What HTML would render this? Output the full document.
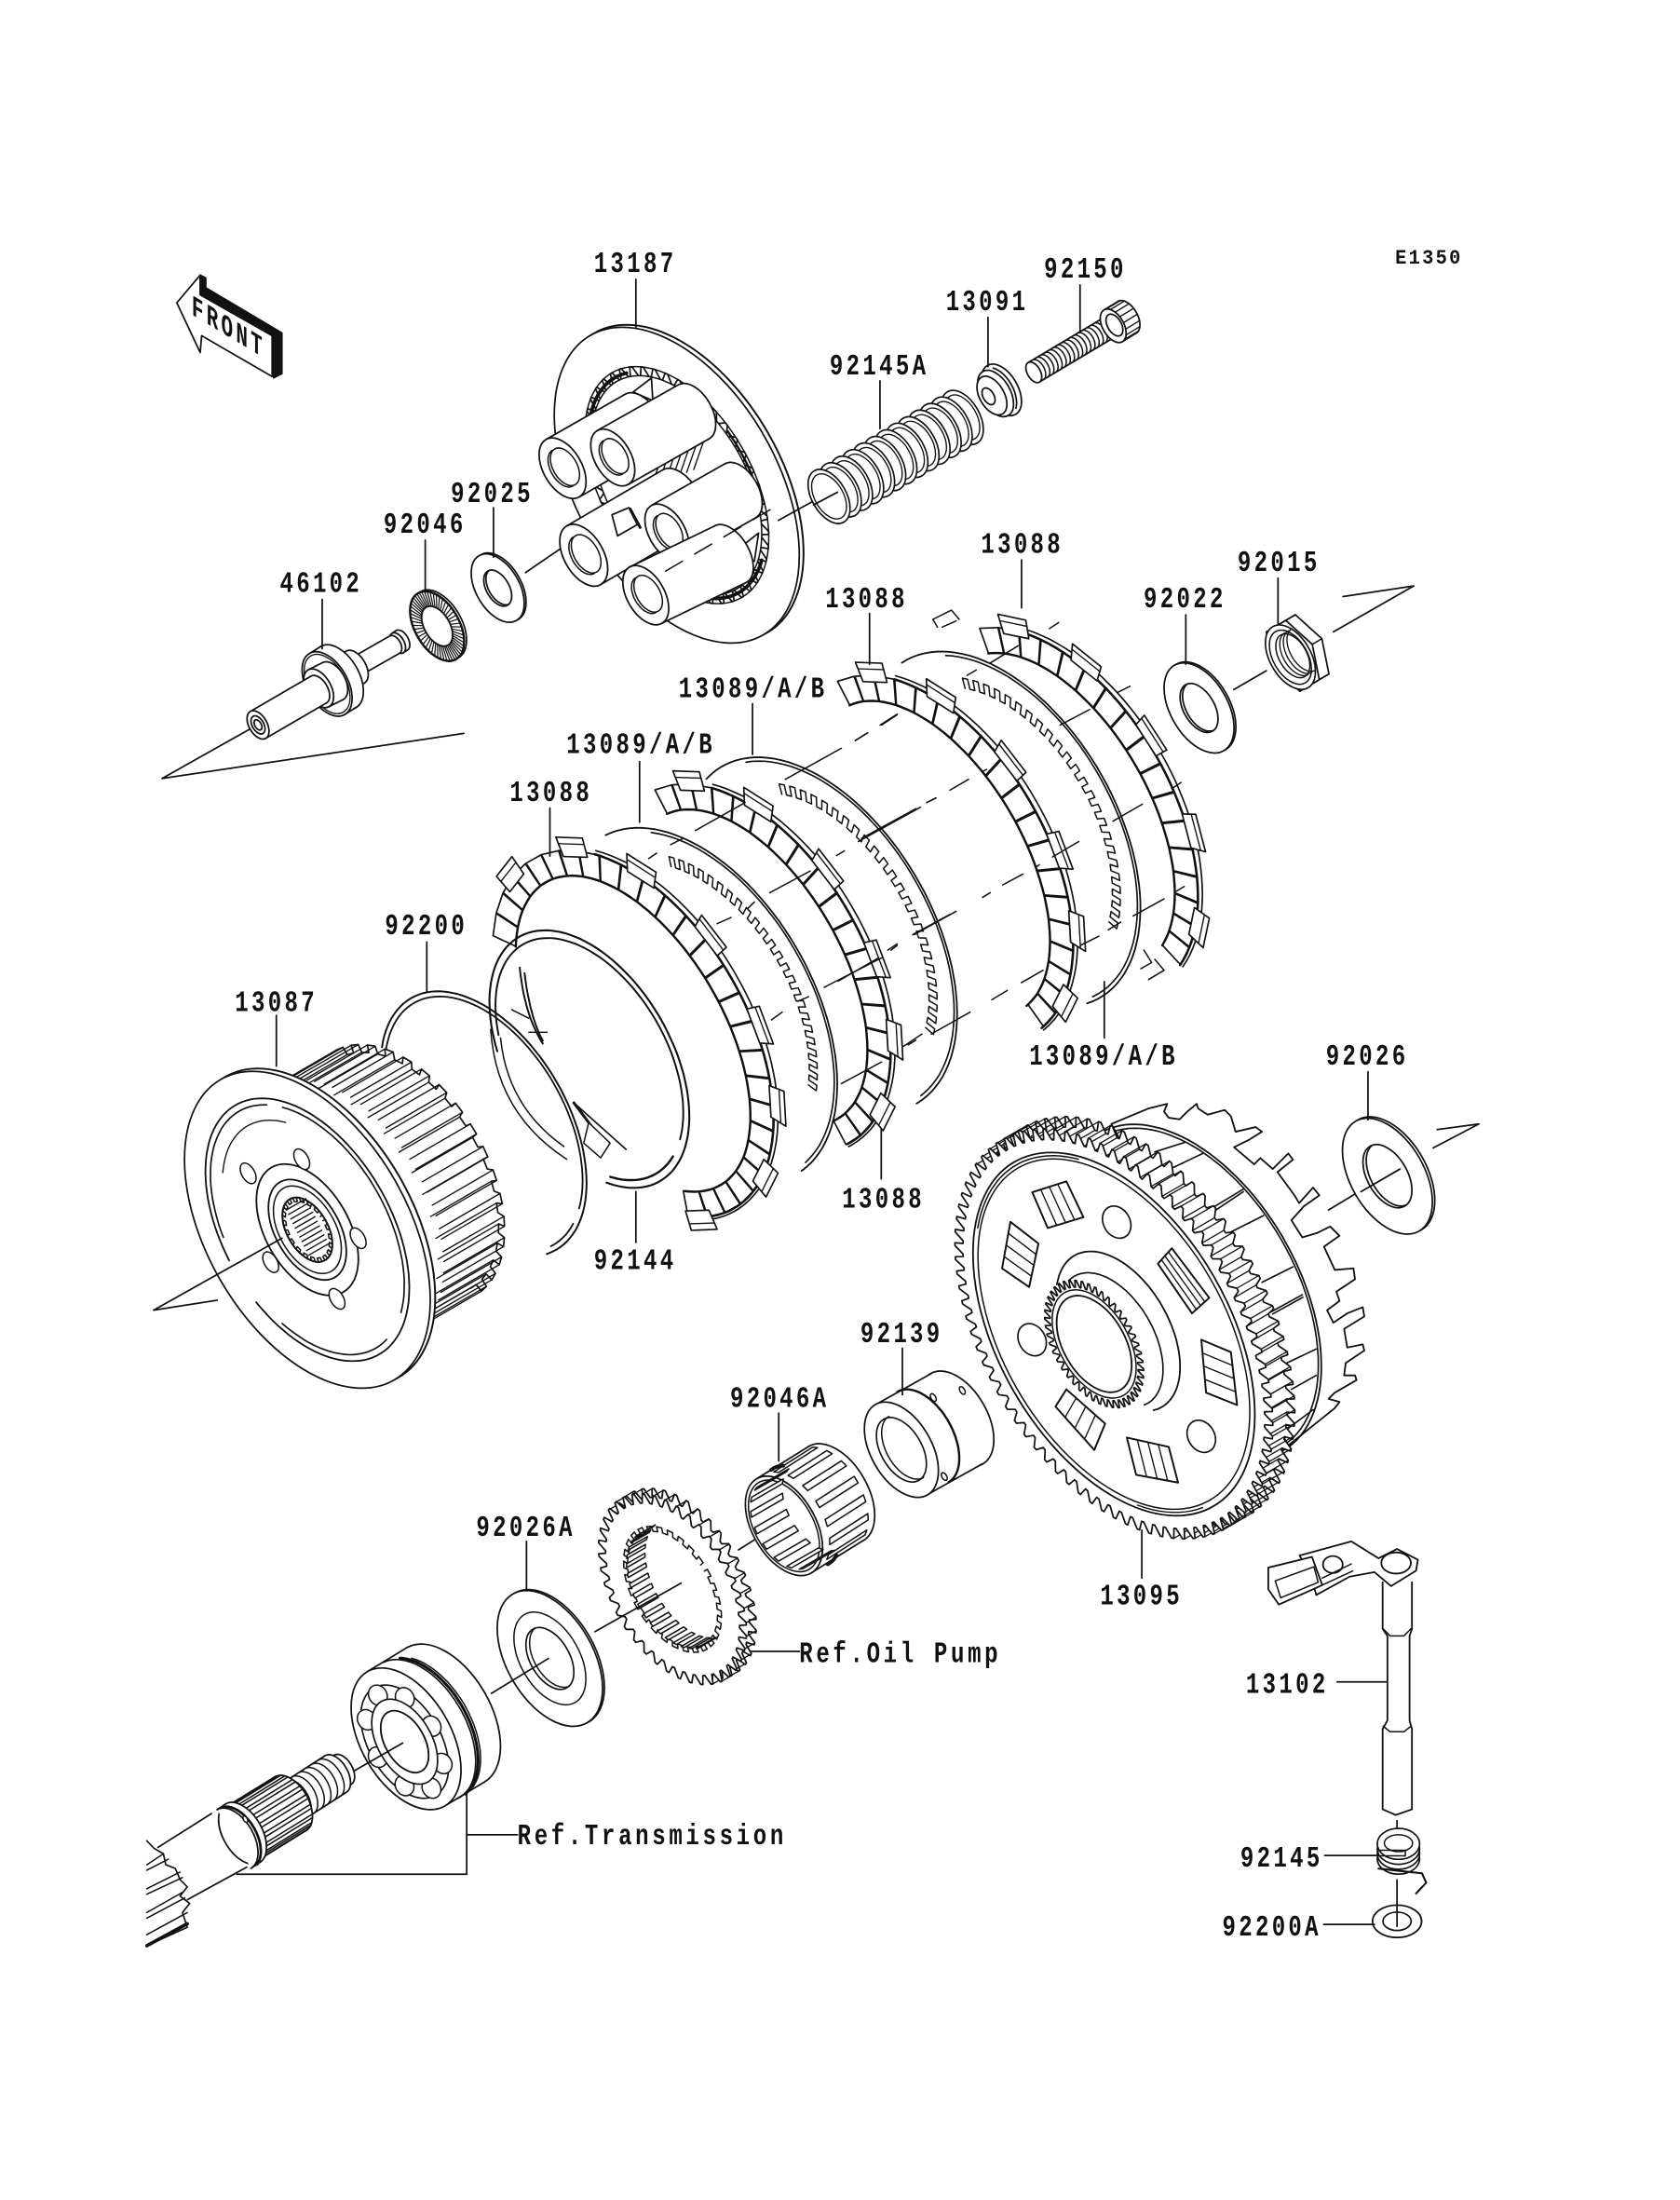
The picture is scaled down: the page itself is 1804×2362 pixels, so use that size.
<!DOCTYPE html>
<html><head><meta charset="utf-8"><style>
html,body{margin:0;padding:0;background:#fff}
svg{display:block}
#art *{stroke:#111;stroke-linejoin:round;stroke-linecap:round}
.t{font-family:"Liberation Mono",monospace;font-weight:bold;font-size:21px;letter-spacing:2.9px;fill:#111}
</style></head><body>
<svg xmlns="http://www.w3.org/2000/svg" width="1804" height="2362" viewBox="0 0 1191.5 1560">
<rect width="1191.5" height="1560" fill="#fff"/>
<g id="art"></g>
<g transform="scale(.9945)" text-anchor="middle">
<text class="t" transform="translate(453 194) scale(.76 1)">13187</text>
<text class="t" transform="translate(774 198) scale(.76 1)">92150</text>
<text class="t" transform="translate(704 221) scale(.76 1)">13091</text>
<text class="t" transform="translate(627 267) scale(.76 1)">92145A</text>
<text class="t" style="font-size:15px;letter-spacing:1.7px" transform="translate(1019 188) scale(.9 1)">E1350</text>
<text class="t" transform="translate(351 358) scale(.76 1)">92025</text>
<text class="t" transform="translate(303 380) scale(.76 1)">92046</text>
<text class="t" transform="translate(229 422) scale(.76 1)">46102</text>
<text class="t" transform="translate(729 394) scale(.76 1)">13088</text>
<text class="t" transform="translate(912 407) scale(.76 1)">92015</text>
<text class="t" transform="translate(845 433) scale(.76 1)">92022</text>
<text class="t" transform="translate(618 433) scale(.76 1)">13088</text>
<text class="t" transform="translate(537 497) scale(.76 1)">13089/A/B</text>
<text class="t" transform="translate(457 537) scale(.76 1)">13089/A/B</text>
<text class="t" transform="translate(393 571) scale(.76 1)">13088</text>
<text class="t" transform="translate(304 666) scale(.76 1)">92200</text>
<text class="t" transform="translate(197 721) scale(.76 1)">13087</text>
<text class="t" transform="translate(787 759) scale(.76 1)">13089/A/B</text>
<text class="t" transform="translate(975 759) scale(.76 1)">92026</text>
<text class="t" transform="translate(630 861) scale(.76 1)">13088</text>
<text class="t" transform="translate(453 905) scale(.76 1)">92144</text>
<text class="t" transform="translate(643 957) scale(.76 1)">92139</text>
<text class="t" transform="translate(556 1003) scale(.76 1)">92046A</text>
<text class="t" transform="translate(375 1095) scale(.76 1)">92026A</text>
<text class="t" transform="translate(814 1144) scale(.76 1)">13095</text>
<text class="t" transform="translate(918 1207) scale(.76 1)">13102</text>
<text class="t" transform="translate(914 1331) scale(.76 1)">92145</text>
<text class="t" transform="translate(907 1380) scale(.76 1)">92200A</text>
<text class="t" text-anchor="start" style="letter-spacing:3.2px" transform="translate(570 1185) scale(.76 1)">Ref.Oil Pump</text>
<text class="t" text-anchor="start" style="letter-spacing:3.2px" transform="translate(369 1315) scale(.76 1)">Ref.Transmission</text>
<text class="t" style="font-size:17px;letter-spacing:2.6px" transform="translate(163 240) skewY(31) scale(.82 1.25)">FRONT</text>
</g>
</svg>
<script>
const R=Math.PI/180,U=[.866,-.5],V=[.5,.866],K=.58,SW=1.15;let o='',RAW=false;
const f1=n=>n.toFixed(1);
const X=x=>(RAW||x<600)?x:.982*x+10.8;
function P(c,b,t,k){const a=(k||K)*b,co=Math.cos(t*R),si=Math.sin(t*R);return [c[0]+a*co*U[0]+b*si*V[0],c[1]+a*co*U[1]+b*si*V[1]];}
function ax(c,d){return [c[0]+d*U[0],c[1]+d*U[1]];}
function pts(a){return a.map(p=>f1(X(p[0]))+','+f1(p[1])).join(' ');}
function pl(a,w,f){o+=`<polyline points="${pts(a)}" fill="${f||'none'}" stroke-width="${w||SW}"/>`;}
function pg(a,w,f){o+=`<polygon points="${pts(a)}" fill="${f||'#fff'}" stroke-width="${w===0?0:(w||SW)}"/>`;}
function L(x1,y1,x2,y2,w,d){o+=`<line x1="${f1(X(x1))}" y1="${f1(y1)}" x2="${f1(X(x2))}" y2="${f1(y2)}" stroke-width="${w||SW}" ${d?`stroke-dasharray="${d}"`:''}/>`;}
function E(c,b,w,f,k){const x=f1(X(c[0])),y=f1(c[1]);o+=`<ellipse cx="${x}" cy="${y}" rx="${f1((k||K)*b)}" ry="${f1(b)}" transform="rotate(-30 ${x} ${y})" fill="${f||'#fff'}" stroke-width="${w===0?0:(w||SW)}"/>`;}
function A(c,b,t0,t1,w,k){const a=[];for(let t=t0;t<t1;t+=3)a.push(P(c,b,t,k));a.push(P(c,b,t1,k));pl(a,w);}
function Q(p0,p1,p2,w){const a=[];for(let i=0;i<=14;i++){const s=i/14,r=1-s;a.push([r*r*p0[0]+2*r*s*p1[0]+s*s*p2[0],r*r*p0[1]+2*r*s*p1[1]+s*s*p2[1]]);}pl(a,w);}
function cyl(lo,hi,b,front){E(hi,b);pg([P(lo,b,-90),P(hi,b,-90),P(hi,b,90),P(lo,b,90)],0);
 pl([P(lo,b,-90),P(hi,b,-90)]);pl([P(lo,b,90),P(hi,b,90)]);
 if(front===0)A(lo,b,-90,90);else if(front===2){}else E(lo,b);}
function washer(c,b,bi,th){E(ax(c,th),b);E(c,b);E(c,bi);A(ax(c,th*1.2),bi,95,265);}
function radial(c,b1,b2,n,w,t0,t1){t0=t0===undefined?0:t0;t1=t1===undefined?360:t1;for(let i=0;i<n;i++){const t=t0+(t1-t0)*i/n,p=P(c,b1,t),q=P(c,b2,t);L(p[0],p[1],q[0],q[1],w||.8);}}
function teeth(c,bo,bi,n,t0,t1,fill){const a=[],s=(t1-t0)/n;for(let i=0;i<n;i++){const t=t0+i*s;a.push(P(c,bi,t),P(c,bo,t+.3*s),P(c,bo,t+.5*s),P(c,bi,t+.8*s));}
 if(fill)pg(a);else pl(a);}
function sq(c,bo,bi,n,t0,t1,w){const a=[],s=(t1-t0)/n;for(let i=0;i<n;i++){const t=t0+i*s;a.push(P(c,bi,t),P(c,bo,t),P(c,bo,t+.5*s),P(c,bi,t+.5*s));}pl(a,w);}

/* ----- tails ----- */
L(115,552,329,520);L(115,552,179,516);
L(1010,415.5,959,423);L(1010,415.5,952,448);
L(1057,797,1027,801);L(1057,797,1024,814);
L(109,929,154,922);

/* ----- FRONT arrow ----- */
pg([[125.4,214.7],[142,195],[142,209],[193,238],[193,267],[143,238],[142,250]]);
pg([[142,195],[146,197],[146,204],[200,236],[200,265],[194,268],[193,238],[142,209]],1,'#111');

/* ----- 46102 ----- */
cyl([282,456],[285,454],8);
cyl([252,473],[280,457],7,0);
cyl([238,482],[252,473],13,0);
cyl([232,485],[240,480],25);
E([232,485],23,.9);
cyl([226,488],[236,483],15);
cyl([183,514],[226,489],11);
E([183,514],7);E([183,514],4);

/* ----- 92046 bearing ----- */
{const c=[310,444];E(ax(c,2),27);E(c,27,1.6);radial(c,27,16,54,.8);E(c,15.5,1.2);}

/* ----- 92025 ----- */
washer([353,417],26.5,14,1.5);
L(372.7,406,402,386);

/* ----- 13187 pressure plate ----- */
{const c=[480,344];E(ax(c,3.5),122.6,1.3);E(c,122.6);
 E(c,92,1,'#fff');teeth(c,92,85,46,0,360,true);E(c,85,1);
 A(c,88,-150,-80,2.5);A(c,88,60,110,2.5);A(c,88,-10,30,1.6);
 pg([[449,278],[462,268],[463,284]]);pg([[520,392],[538,378],[535,398]]);pg([[510,395],[525,384],[518,410]]);
 for(let i=0;i<7;i++){L(462+i*5,345-i*2,470+i*5,322-i*2,.9);}
 const B=[[[399,332],[455,300],23.5],[[434.6,324.4],[492,292],22],[[414,393.7],[482,354],24],[[473,377.5],[525,348],22],[[458,422],[518,393],23]];
 for(const [lo,hi,b] of B){cyl(lo,hi,b,2);E(lo,b);E(ax(lo,2),b*.62,1);A(lo,b*.62,90,270,1);}
 pg([[434,365],[446,360],[452,372],[438,380]]);
 L(447,361,454,374,2);
 L(472,405,552,358,1,'14 10');
 L(552,369,581,353);
}

/* ----- 92145A spring ----- */
{const a=[684,296],b=[588,352],n=12;for(let i=0;i<=n;i++){const c=[a[0]+(b[0]-a[0])*i/n,a[1]+(b[1]-a[1])*i/n];E(c,21,1.1);E(c,17.5,.9);}L(577,358,594,349);}

/* ----- 13091 ----- */
{const c=[708,279];E(ax(c,5),20);E(c,18);E(ax(c,-3),15);E([703,281],6.5);A(ax(c,2),19,-60,60);}

/* ----- 92150 bolt ----- */
{const a=[735.6,264],b=[792,231];cyl(a,b,8,1);for(let i=1;i<19;i++){const c=[a[0]+(b[0]-a[0])*i/19,a[1]+(b[1]-a[1])*i/19];A(c,8,-90,90,1);}
 const h=[793,231],h2=[803,225];cyl(h,h2,13,2);E(h,13);for(let t=-80;t<90;t+=22){const p=P(h,13,t),q=P(h2,13,t);L(p[0],p[1],q[0],q[1],.9);}E(ax(h,1),8.5);}

/* ----- 92015 nut / 92022 ----- */
{const c=[921,466],bk=ax(c,10),hx=[],hx2=[];for(let i=0;i<6;i++){hx.push(P(bk,28,-60+i*60));hx2.push(P(ax(c,2),28,-60+i*60));}
 pg(hx);pg(hx2);for(let i=0;i<6;i++){L(hx[i][0],hx[i][1],hx2[i][0],hx2[i][1],1);}
 E(c,25,1.1);E(c,21,1);E(ax(c,2),17,1);A(ax(c,5),17,90,270,.9);A(ax(c,8),17,90,270,.9);A(ax(c,11),17,90,270,.9);}
L(880,489,903.6,475.6);
washer([855,502],35,19,1.5);

/* ----- Clutch pack (exact coordinates) ----- */
RAW=true;
function fric(c,b,t0,t1,tabs){E(c,b,0);const s=9,bi=b-21,ki=(K*b-20)/bi,bm=b-2,km=(K*b-4)/bm;
 for(let t=t0;t<t1-1;t+=s){pg([P(c,bi,t+.2,ki),P(c,bm,t+.2,km),P(c,bm,t+s-.2,km),P(c,bi,t+s-.2,ki)],1.1);}
 A(c,bi,t0,t1,1.6,ki);A(c,b,Math.max(t0,-60),t1,1.1);A(c,bm,Math.max(t0,-60),t1,1.7,km);
 for(const t of tabs){if(t<t0||t>t1)continue;
  pg([P(c,b-7,t-5.5),P(c,b+8,t-5.5),P(c,b+8,t+5.5),P(c,b-7,t+5.5)],1.1);
  const p=P(c,b+3,t-5.5),q=P(c,b+3,t+5.5);L(p[0],p[1],q[0],q[1],.9);}
}
function steel(c,b,t0,t1,tt0,tt1){E(c,b,0);A(c,b,t0,t1,1.2);A(c,b-3,t0+22,t1-4,1.1);sq(c,118,110,24,tt0,tt1,1);}
const tabs=[-103,-70,-42,-13,16,41,69,107],tabs23=[-70,-42,-13,16,41,69];
fric([750,575],145,-78,75,[-62.6,-34,-5,25,57]);
{const z=(x,y)=>[(900+x/3)/1.514,(650+y/3)/1.514];
 pl([[305,45],[365,15],[390,45]].map(p=>z(p[0],p[1])),1);pl([[305,45],[320,70]].map(p=>z(p[0],p[1])),1);
 pl([[985,1110],[1010,1150],[975,1170]].map(p=>z(p[0],p[1])),1);pl([[1020,1140],[1050,1175],[1000,1205]].map(p=>z(p[0],p[1])),1);}
steel([711,588],138,-92,97,-65,62);
fric([661.5,609],145,-87,85,tabs23);
steel([581,663],138,-100,90,-65,62);
fric([532,686],145,-87,92,tabs23);
steel([496,713],138,-88,87,-60,55);
fric([449,733],145,-130,112,tabs);
/* dashes & ticks */
{const s=(X0,Y0,a)=>{for(const q of a)L((X0+q[0]/3)/1.514,(Y0+q[1]/3)/1.514,(X0+q[2]/3)/1.514,(Y0+q[3]/3)/1.514,1);};
 s(520,680,[[600,680,640,660],[680,635,840,545],[970,470,1150,370],[1195,345,1235,320],[1280,295,1330,262],[920,835,1050,765],[1215,660,1390,565],[1425,545,1455,530],[1095,1140,1280,1045],[1380,970,1500,905],[530,725,555,708],[850,885,870,865],[750,935,795,915],[1010,1185,1045,1170],[925,1245,960,1220],[1135,715,1160,700],[1300,1020,1330,1000],[1150,1450,1280,1380],[1350,1330,1410,1290]]);
 s(900,650,[[335,70,380,50],[490,185,580,130],[415,225,445,208],[135,385,190,350],[55,435,95,410],[65,760,265,650],[285,635,315,620],[360,595,420,560],[465,535,478,528],[245,1060,380,985],[465,940,490,925],[530,900,595,865],[640,840,648,835],[300,1380,425,1310],[495,1270,545,1240],[590,1215,660,1175],[715,385,810,335],[885,695,980,640],[950,1000,1050,945],[680,75,710,55],[900,280,940,260],[1075,590,1105,570],[1090,920,1115,905],[780,1095,840,1065],[870,1045,910,1020],[690,810,775,760],[0,1210,130,1135],[170,1110,190,1095],[225,1415,250,1400]]);}

/* ----- 92144 ring ----- */
{const c=[418,751];E(c,94,0);A(c,100,-158,125,1.4);A(c,94,-150,60,1.3);A(c,94,72,122,1.6);
 Q([368.6,686],[372,720],[385,740],1.3);Q([372,690],[376,722],[385,738],1.3);
 L(363,716,375,722,1);L(375,732,388,732,.9);
 L(407,782,444,815,1.1);L(407,782,425,806,2);pg([[417.5,796],[432.7,810.6],[426,821],[414,810.6]],1);}

/* ----- 92200 ring ----- */
{const c=[343,797];A(c,103,-150,97,1.3);A(c,99,-138,60,1.2);A(c,99,70,92,1.2);
 Q([348,730],[352,790],[402,822],1);Q([355,736],[360,785],[400,813],1);
}

/* ----- 13087 hub ----- */
{const c=[218,872],bk=[287,832],b=100,fr=ax(c,30);
 E(bk,b,0);pg([P(fr,b,-90),P(bk,b,-90),P(bk,b,90),P(fr,b,90)],0);
 const s=10.5,a=[];for(let t=-88;t<88;t+=s){a.push(P(bk,b,t),P(bk,b,t+.45*s),P(bk,b-6,t+.5*s),P(bk,b-6,t+.95*s));
  for(const [bb,tt] of [[b,t],[b,t+.45*s],[b-6,t+.5*s]]){const p=P(bk,bb,tt),q=P(fr,bb,tt);L(p[0],p[1],q[0],q[1],.9);}}
 pl(a,1.1);
 E(ax(c,4),123,1.3);E(c,123);
 A(c,102,-175,165,1.2);A(c,97,-165,-70,1.1);A(c,97,-60,60,1.1);A(c,97,80,150,1.1);
 A(c,85,-130,-60,0.9);
 E(c,51,1.2);E(c,39,1.2);E(c,34,1);E(c,25,1.3);
 sq(c,25,22,20,0,360,1);
 for(let i=0;i<11;i++){const p=[c[0]-15+i*1.6,c[1]-14+i*3.2];L(p[0],p[1],p[0]+14,p[1]-8,.9);}
 for(const p of [[214,822],[176,832],[254,878],[239,921],[192,895]])E(p,8,1);
 L(109,929,200,878);
}

/* ----- 13095 clutch housing ----- */
{const z=(x,y)=>[(1000+x/3)/1.514,(1180+y/3)/1.514];
 const mp=a=>a.map(p=>z(p[0],p[1]));
 const c=[790,946],b=159;
 pg(mp([[580,80],[700,30],[760,15],[750,40],[765,60],[800,65],[825,40],[855,15],[860,30],[890,50],[945,35],[965,55],[980,105],[1045,90],[1065,105],[1025,130],[975,155],[1040,210],[1060,190],[1100,225],[1150,175],[1165,195],[1115,235],[1170,310],[1185,335],[1230,285],[1250,310],[1200,345],[1160,390],[1195,445],[1245,430],[1285,410],[1315,440],[1265,475],[1300,550],[1360,545],[1365,580],[1305,620],[1315,650],[1275,680],[1295,720],[1340,690],[1390,670],[1395,700],[1330,740],[1340,800],[1390,790],[1395,810],[1335,850],[1330,890],[1365,890],[1370,905],[1300,945],[1280,965],[1315,975],[1300,995],[1150,1115]]),1.2);
 const ci=[845,916];A(ci,130,-100,98,1.2);A(ci,127,-90,95,1.1);
 for(const q of [[905,350,1005,290],[912,360,1005,298],[960,430,1070,375],[1065,590,1165,540],[1095,685,1195,630],[1100,692,1197,638],[1145,850,1240,805],[1160,935,1240,890],[720,170,815,140],[780,220,875,175],[1150,1060,1230,1000]]){const p=z(q[0],q[1]),r=z(q[2],q[3]);L(p[0],p[1],r[0],r[1],1.1);}
 /* gear */
 const n=84,s=360/n,g2=ax(c,18);
 teeth(g2,b,b-8,n,0,360,true);
 for(let i=0;i<n;i++){const t=i*s;if(t>115&&t<250)continue;for(const [bb,tt] of [[b,t+.3*s],[b-8,t+.8*s]]){const p=P(c,bb,tt),q=P(g2,bb,tt);L(p[0],p[1],q[0],q[1],.85);}}
 teeth(c,b,b-8,n,0,360,true);
 E(c,141,1.2);E(c,136,1);
 A(c,138.5,-125,-60,1);A(c,138.5,95,125,.9);
 A([793,944],62,-150,100,1.2);A([788,950],52,-130,95,1.1);
 const h=[776,953];
 E(h,49.5,0);teeth(h,49.5,44,46,0,360,true);E(h,42,1);E(h,37.5,1.2);
 for(const p of [[792,866.6],[732,950],[852,1018.5]])E(p,12,1.1,'#fff',.78);
 const W=[[[325,300],[435,265],[490,380],[375,415],0],[[255,395],[345,465],[315,605],[228,545],1],[[775,480],[895,640],[840,690],[730,530],1],[[870,775],[965,815],[985,985],[885,945],1],[[630,1090],[765,1120],[795,1235],[660,1210],0],[[435,935],[560,1045],[525,1130],[400,990],0]];
 for(const w of W){const q=mp(w.slice(0,4));pg(q,1.3);
  const lerp=(a,d,f)=>[a[0]+(d[0]-a[0])*f,a[1]+(d[1]-a[1])*f];
  for(let i=1;i<4;i++){const f=i/4;let a,d;if(w[4]===0){a=lerp(q[0],q[1],f);d=lerp(q[3],q[2],f);}else{a=lerp(q[0],q[3],f);d=lerp(q[1],q[2],f);}L(a[0],a[1],d[0],d[1],.9);}
 }
}
RAW=false;

/* ----- 92026 ----- */
L(948.5,858,989,834);
washer([991,834],45,24.5,2);
L(972,845,1000,829);

/* ----- 92139 ----- */
{const lo=[640,1028],hi=[680,1006];cyl(lo,hi,37,1);E(lo,25,1.1);A(ax(lo,4),25,90,270,1);
 A(ax(lo,18),37,-90,90,1.6);E([663,991],3,1);E([684,986],3,1);E([671,1047],3,1);}

/* ----- 92046A ----- */
{const lo=[556,1082],hi=[593,1059],b=38.6;L(523.8,1099,550.6,1082);cyl(lo,hi,b,0);
 E(lo,b,1.1);E(lo,b-3,1);
 for(let t=-72;t<80;t+=22){const a=ax(lo,6),z=ax(hi,-5);pg([P(a,b,t),P(z,b,t),P(z,b,t+8),P(a,b,t+8)],1);}
 for(let t=100;t<262;t+=22){const a=ax(lo,0),z=ax(lo,26);pg([P(a,b-5,t),P(z,b-5,t),P(z,b-5,t+8),P(a,b-5,t+8)],1);}
 A(ax(lo,14),b+.5,-95,-72,2.6);A(ax(lo,14),b+.5,70,92,2.6);}

/* ----- Oil pump gear ----- */
{const c=[477,1127],g2=ax(c,8),b=74;teeth(g2,b,b-7,40,0,360,true);
 for(let i=0;i<40;i++){const t=i*9;if(t>100&&t<250)continue;const p=P(c,b,t+3),q=P(g2,b,t+3);L(p[0],p[1],q[0],q[1],.9);}
 teeth(c,b,b-7,40,0,360,true);
 E(c,49,0);sq(c,49,45,28,0,360,1);
 for(let t=100;t<262;t+=10){const p=P(c,46,t),q=P(ax(c,15),46,t),p2=P(c,46,t+4),q2=P(ax(c,15),46,t+4);pg([p,q,q2,p2],1);}
 L(422,1157,483,1122.6);}

/* ----- 92026A ----- */
{const c=[390,1176];washer(c,52.7,24,1.5);E(c,36,1);E(c,24,1.1);A(ax(c,3),24,95,265,1);L(348.5,1200.8,389,1176);}

/* ----- Ball bearing ----- */
{const lo=[288,1233],hi=[316,1216],b=55;cyl(lo,hi,b,1);
 A(ax(lo,12),b,-88,92,1.1);A(ax(lo,14),b,-70,85,2);A(ax(lo,16),b,-60,75,1);
 const c=[287,1235];E(c,44,1.1);
 for(let t=0;t<360;t+=45){const p=P(c,38,t);E(p,7.5,1,'#fff',.85);}
 E(c,33,1.1);E(c,24,1.2);L(249,1257,285.6,1236);}

/* ----- Shaft ----- */
{cyl([238,1258],[243,1255],12,0);
 cyl([210,1276],[238,1258],15,0);
 for(let i=1;i<6;i++)A([210+i*4.7,1276-i*3],15,-90,90,1);
 cyl([172,1300],[206,1279],22,0);
 for(let t=-80;t<90;t+=20){const p=P([172,1300],22,t),q=P([206,1279],22,t),p2=P([172,1300],22,t+8),q2=P([206,1279],22,t+8);pg([p,q,q2,p2],1);}
 cyl([166,1304],[172,1300],24,0);A([168,1303],24,-80,80,1.8);E([174,1290],2.5,1);
 pl([[112,1310],[150,1286]]);pl([[133,1347],[175,1324]]);
 const Z=(x,y)=>[(150+x/1.96)/1.514,(1500+y/2.53)/1.514];
 pl([[15,1205],[30,1225],[50,1240],[55,1270],[75,1280],[85,1310],[100,1330],[85,1355],[105,1375],[90,1400],[100,1440],[15,1490]].map(p=>Z(p[0],p[1])),1.1);
 for(const [a,b,c2,d,w] of [[15,1270,50,1240,1],[15,1285,60,1255,1],[15,1335,85,1290,1],[15,1350,90,1305,1],[15,1400,90,1345,1],[15,1415,95,1360,1],[15,1460,100,1400,1],[15,1490,100,1430,2.4]]){const p=Z(a,b),q=Z(c2,d);L(p[0],p[1],q[0],q[1],w);}
 o+='<rect x="0" y="1290" width="103" height="120" fill="#fff" style="stroke:none"/>';
}

/* ----- 13102 lever ----- */
{
 pl([[987.6,1122],[987.6,1155],[991,1160],[991,1220],[987.6,1226],[987.6,1283],[997,1287],[1008.8,1283],[1008.8,1226],[1007,1220],[1007,1160],[1008.8,1155],[1008.8,1122]],1.2);
 pl([[988,1155],[993,1160],[1003,1160],[1008,1155]],1);pl([[988,1224],[993,1228],[1003,1228],[1008,1224]],1);
 pg([[927.6,1103],[965,1093],[984.6,1105],[998,1098.4],[1013,1106],[1011.7,1113.8],[993.7,1124.7],[981.7,1114.8],[963.7,1118],[939.6,1131],[936,1118]],1.2);
 o+=`<ellipse cx="${X(997.3)}" cy="1108.3" rx="10.5" ry="7.5" fill="#fff" stroke-width="1.2"/><ellipse cx="${X(951.6)}" cy="1109.4" rx="7" ry="6" fill="#fff" stroke-width="1.2"/>`;
 pg([[905,1111.6],[936.6,1104],[944,1124],[912.6,1137.8],[905,1127]],1.2);
 pl([[910,1121],[938,1111],[941,1122],[914,1133],[910,1121]],1);
 pl([[944,1119],[965,1109]],1);pl([[944,1124],[966,1114]],1);
 L(998,1291,998,1315);
 for(let i=0;i<4;i++)o+=`<ellipse cx="${X(999)}" cy="${1318-i*3.5}" rx="15" ry="11" fill="#fff" stroke-width="1.1"/>`;
 o+=`<ellipse cx="${X(999)}" cy="1307" rx="10" ry="6" fill="#fff" stroke-width="1"/>`;
 pl([[984,1312],[1004,1312],[1004,1316],[984,1316],[984,1312]],1);
 pl([[984.6,1325],[1016,1328.4],[1019,1335],[1011.7,1342.7]],1.4);
 L(998,1333,998,1362);
 o+=`<ellipse cx="${X(998)}" cy="1362.4" rx="17.4" ry="11.5" fill="#fff" stroke-width="1.2"/><ellipse cx="${X(998)}" cy="1362.4" rx="10" ry="6.5" fill="#fff" stroke-width="1.1"/>`;
 L(998,1350,998,1366);
}

/* ----- Leader lines ----- */
[[451,198,451,232],[769,202,769,236],[702.5,225,702.5,260],[624.5,270,624.5,304],[350,360,350,395],[301.6,383,301.6,420],[228.5,425,228.5,460],
[726.8,397,726.8,431],[912,410,912,443],[845.4,436,845.4,471],[617,435,617,471],[533.7,499,533.7,535],[453.6,540,453.6,583],[390,573,390,607],[302.7,668,302.7,703],[196,720,196,756],[786.6,696,786.6,736],[977,760,977,794],[625.5,800,625.5,836],[451,845,451,881],[640.7,956,640.7,989],[552.3,1002,552.3,1036],[373.4,1093,373.4,1128],[813.6,1085,813.6,1119],[954.7,1192.6,990,1192.6],[945.7,1315.7,983,1315.7],[945,1364.6,981.7,1364.6],
[532,1171,567,1171],[331,1271,331,1329],[168,1329,331,1329],[331,1301,367,1301]].forEach(l=>L(l[0],l[1],l[2],l[3],1.15));
document.getElementById('art').innerHTML=o;
</script>
</body></html>
